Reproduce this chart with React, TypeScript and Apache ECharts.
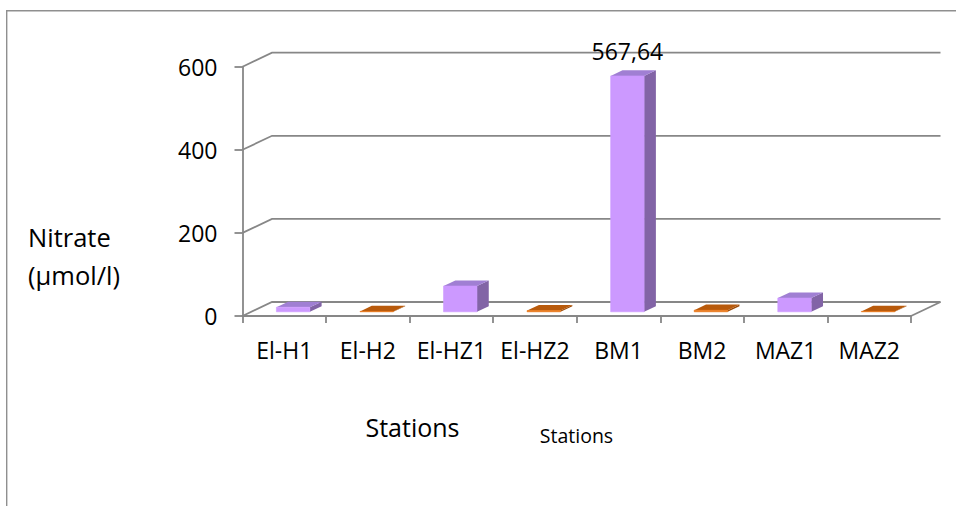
import React, { useEffect, useRef } from "react";
import * as echarts from "echarts";

// Nitrate concentration per sampling station (µmol/l)
const stations = ["El-H1", "El-H2", "El-HZ1", "El-HZ2", "BM1", "BM2", "MAZ1", "MAZ2"];
const nitrate = [11, 1, 62, 3, 567.64, 4, 33, 1];
// 1 = first station of a site (purple), 2 = second station (orange)
const stationGroup = [1, 2, 1, 2, 1, 2, 1, 2];
const labelledStations = ["BM1"];
const yTicks = [0, 200, 400, 600];

// oblique projection of the depth axis
const DEPTH_X = 29.5;
const DEPTH_Y = -14;
// bar placement inside the depth / category band
const BAR_FRONT = 0.3;
const BAR_DEPTH = 0.4;
const BAR_WIDTH = 0.4;

const FONT = "'Open Sans', 'Noto Sans', sans-serif";
const AXIS_GREY = "#878787";

const FACES: Record<number, { front: string; top: string; side: string }> = {
  1: { front: "#cc99ff", top: "#a07fd3", side: "#8264a6" },
  2: { front: "#e8700e", top: "#b85a0c", side: "#9c4a06" },
};

const formatValue = (v: number) => String(v).replace(".", ",");

export default function App() {
  const ref = useRef<HTMLDivElement>(null);

  useEffect(() => {
    if (!ref.current) return;
    const chart = echarts.init(ref.current, null, { renderer: "svg" });

    const frameData = yTicks.map((v) => [0, v]);
    const barData = stations.map((_, i) => [i, nitrate[i], stationGroup[i]]);

    chart.setOption({
      animation: false,
      backgroundColor: "#ffffff",
      grid: { left: 242.5, right: 45, top: 66.7, bottom: 190 },
      xAxis: {
        type: "category",
        data: stations,
        axisLine: { show: true, lineStyle: { color: AXIS_GREY, width: 1.8 } },
        axisTick: { show: true, length: 7, interval: 0, lineStyle: { color: AXIS_GREY, width: 1.8 } },
        axisLabel: { color: "#000", fontSize: 23, fontFamily: FONT, margin: 22, interval: 0 },
        splitLine: { show: false },
      },
      yAxis: {
        type: "value",
        min: 0,
        max: 600,
        interval: 200,
        axisLine: { show: true, lineStyle: { color: AXIS_GREY, width: 1.8 } },
        axisTick: { show: true, length: 8, lineStyle: { color: AXIS_GREY, width: 1.8 } },
        axisLabel: { color: "#000", fontSize: 23, fontFamily: FONT, margin: 25 },
        splitLine: { show: false },
      },
      graphic: [
        {
          type: "polyline",
          shape: { points: [[6.7, 520], [6.7, 10.7], [970, 10.7]] },
          style: { stroke: "#8f8f8f", lineWidth: 1.4, fill: "none" },
          silent: true,
        },
        {
          type: "text",
          x: 28,
          y: 256,
          style: {
            text: "Nitrate\n(µmol/l)",
            fontSize: 25.5,
            lineHeight: 38,
            fontFamily: FONT,
            fill: "#000",
            textAlign: "left",
            textVerticalAlign: "middle",
          },
        },
        {
          type: "text",
          x: 412.5,
          y: 427,
          style: {
            text: "Stations",
            fontSize: 25,
            fontFamily: FONT,
            fill: "#000",
            textAlign: "center",
            textVerticalAlign: "middle",
          },
        },
        {
          type: "text",
          x: 576.5,
          y: 435,
          style: {
            text: "Stations",
            fontSize: 19.5,
            fontFamily: FONT,
            fill: "#000",
            textAlign: "center",
            textVerticalAlign: "middle",
          },
        },
      ],
      series: [
        {
          // back wall gridlines, side wall edges and floor outline
          type: "custom",
          z: 1,
          clip: false,
          silent: true,
          encode: { x: 0, y: 1 },
          data: frameData,
          renderItem: (params: any, api: any) => {
            const cs = params.coordSys;
            const x0 = cs.x;
            const x1 = cs.x + cs.width;
            const v = api.value(1);
            const y = api.coord([0, v])[1];
            const style = { stroke: AXIS_GREY, lineWidth: 1.8, fill: "none" };
            const children: any[] = [
              {
                type: "polyline",
                shape: {
                  points: [
                    [x0, y],
                    [x0 + DEPTH_X, y + DEPTH_Y],
                    [x1 + DEPTH_X, y + DEPTH_Y],
                  ],
                },
                style,
              },
            ];
            if (v === 0) {
              children.push({
                type: "line",
                shape: { x1: x1, y1: y, x2: x1 + DEPTH_X, y2: y + DEPTH_Y },
                style,
              });
            }
            return { type: "group", children };
          },
        },
        {
          // 3D columns
          type: "custom",
          z: 2,
          clip: false,
          encode: { x: 0, y: 1 },
          data: barData,
          renderItem: (params: any, api: any) => {
            const idx = api.value(0);
            const v = api.value(1);
            const faces = FACES[api.value(2)];
            const base = api.coord([idx, 0]);
            const top = api.coord([idx, v]);
            const band = api.size([1, 0])[0];
            const w = band * BAR_WIDTH;
            const ox = DEPTH_X * BAR_FRONT;
            const oy = DEPTH_Y * BAR_FRONT;
            const dx = DEPTH_X * BAR_DEPTH;
            const dy = DEPTH_Y * BAR_DEPTH;
            const xl = base[0] - w / 2 + ox;
            const xr = xl + w;
            const yb = base[1] + oy;
            const yt = top[1] + oy;
            const children: any[] = [
              {
                type: "polygon",
                shape: { points: [[xr, yt], [xr + dx, yt + dy], [xr + dx, yb + dy], [xr, yb]] },
                style: { fill: faces.side },
              },
              {
                type: "polygon",
                shape: { points: [[xl, yt], [xr, yt], [xr + dx, yt + dy], [xl + dx, yt + dy]] },
                style: { fill: faces.top },
              },
              {
                type: "polygon",
                shape: { points: [[xl, yt], [xr, yt], [xr, yb], [xl, yb]] },
                style: { fill: faces.front, stroke: faces.front, lineWidth: 0.6 },
              },
            ];
            if (labelledStations.includes(stations[idx])) {
              children.push({
                type: "text",
                x: xl + w / 2,
                y: yt - 25,
                style: {
                  text: formatValue(v),
                  fontSize: 23,
                  fontFamily: FONT,
                  fill: "#000",
                  textAlign: "center",
                  textVerticalAlign: "middle",
                },
              });
            }
            return { type: "group", children };
          },
        },
      ],
    });

    return () => chart.dispose();
  }, []);

  return (
    <div
      ref={ref}
      style={{ position: "absolute", left: 0, top: 0, width: 956, height: 506, background: "#fff" }}
    />
  );
}
